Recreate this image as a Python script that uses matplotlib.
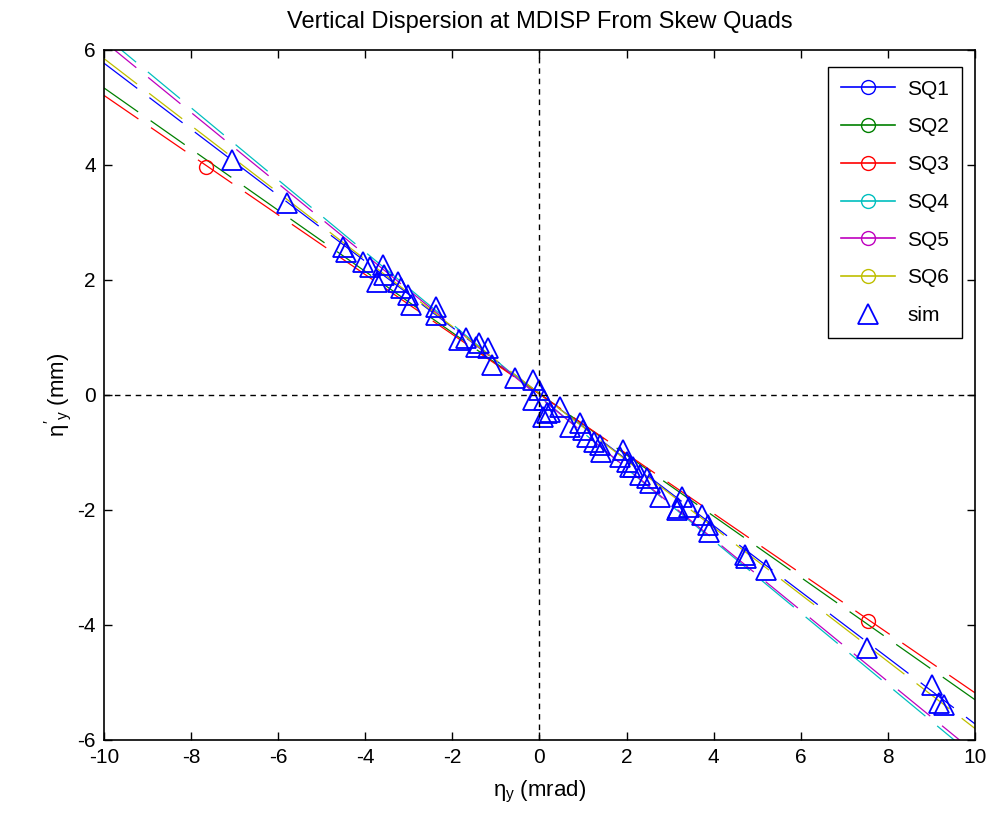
import matplotlib
matplotlib.use("Agg")
import matplotlib.pyplot as plt
from matplotlib.lines import Line2D

plt.rcParams["font.family"] = ["Liberation Sans", "DejaVu Sans"]
plt.rcParams["mathtext.fontset"] = "custom"
plt.rcParams["mathtext.rm"] = "Liberation Sans"
plt.rcParams["mathtext.it"] = "Liberation Sans"
plt.rcParams["lines.scale_dashes"] = False
plt.rcParams["axes.unicode_minus"] = False

# fitted dispersion lines for each skew quad, evaluated at the axis ends
fit_x = [-10, 10]
sq_names = ["SQ1", "SQ2", "SQ3", "SQ4", "SQ5", "SQ6"]
sq_y_left = [5.77, 5.34, 5.21, 6.25, 6.15, 5.85]
sq_y_right = [-5.72, -5.30, -5.18, -6.30, -6.22, -5.80]
sq_colors = ["#0000ff", "#008000", "#ff0000", "#00bfbf", "#bf00bf", "#bfbf00"]

# measured points (only SQ3 falls inside the plotted range)
sq3_x = [-7.65, 7.55]
sq3_y = [3.97, -3.93]

# simulated points
sim_x = [-7.05, -5.79, -4.52, -4.45, -4.06, -3.90, -3.60, -3.56, -3.74, -3.26,
         -3.17, -3.03, -2.94, -2.37, -2.37, -1.84, -1.68, -1.45, -1.38, -1.19,
         -1.08, -0.57, -0.16, 0.00, -0.16, 0.11, 0.18, 0.46, 0.69, 0.07,
         0.23, 0.92, 0.99, 1.10, 1.26, 1.38, 1.42, 1.91, 1.84, 2.00,
         2.14, 2.30, 2.53, 2.76, 3.28, 3.15, 3.44, 2.07, 2.46, 3.17,
         3.74, 3.86, 3.90, 4.71, 4.75, 5.21, 7.51, 9.02, 9.18, 9.30]
sim_y = [4.09, 3.34, 2.57, 2.48, 2.31, 2.23, 2.26, 2.09, 1.97, 1.97,
         1.86, 1.74, 1.57, 1.53, 1.39, 0.96, 0.99, 0.83, 0.90, 0.82,
         0.52, 0.30, 0.26, 0.09, -0.09, -0.09, -0.31, -0.21, -0.56, -0.38,
         -0.30, -0.49, -0.61, -0.73, -0.82, -0.87, -0.99, -0.96, -1.08, -1.17,
         -1.25, -1.39, -1.53, -1.77, -1.77, -2.00, -1.95, -1.25, -1.44, -1.97,
         -2.09, -2.26, -2.38, -2.78, -2.83, -3.04, -4.40, -5.04, -5.36, -5.40]

fig = plt.figure(figsize=(9.88, 8.21), dpi=100)
ax = fig.add_axes([0.1053, 0.0987, 0.8815, 0.8404])

for name, yl, yr, c in zip(sq_names, sq_y_left, sq_y_right, sq_colors):
    ax.plot(fit_x, [yl, yr], color=c, lw=0.9, dashes=(30, 11))

ax.plot(sq3_x, sq3_y, "o", color=sq_colors[2], mfc="none", ms=10, mew=1.0)
ax.plot(sim_x, sim_y, "^", color="#0000ff", mfc="none", ms=14, mew=1.3)

ax.axhline(0, color="black", lw=1.0, dashes=(4, 3.5))
ax.axvline(0, color="black", lw=1.0, dashes=(4, 3.5))

ax.set_xlim(-10, 10)
ax.set_ylim(-6, 6)
ax.set_xticks(range(-10, 11, 2))
ax.set_yticks(range(-6, 7, 2))
ax.tick_params(direction="in", length=6, width=1.0, top=True, right=True,
               labelsize=15, pad=6)
for s in ax.spines.values():
    s.set_linewidth(1.2)

ax.set_title("Vertical Dispersion at MDISP From Skew Quads", fontsize=17, pad=16)
ax.set_xlabel(r"$\eta_y$ (mrad)", fontsize=16, labelpad=8)
ax.set_ylabel(r"$\eta'_y$ (mm)", fontsize=16, labelpad=2)

handles = [Line2D([], [], color=c, marker="o", mfc="none", ms=10, lw=1.2)
           for c in sq_colors]
handles.append(Line2D([], [], color="#0000ff", marker="^", mfc="none", ms=14,
                      lw=0, mew=1.3))
leg = ax.legend(handles, sq_names + ["sim"], loc="upper right",
                bbox_to_anchor=(0.985, 0.975), borderaxespad=0, fontsize=15,
                labelspacing=0.9, handlelength=2.6, handletextpad=0.6,
                borderpad=0.6, fancybox=False, framealpha=1, edgecolor="black")
leg.get_frame().set_linewidth(1.0)

fig.savefig("out.png", dpi=100)
